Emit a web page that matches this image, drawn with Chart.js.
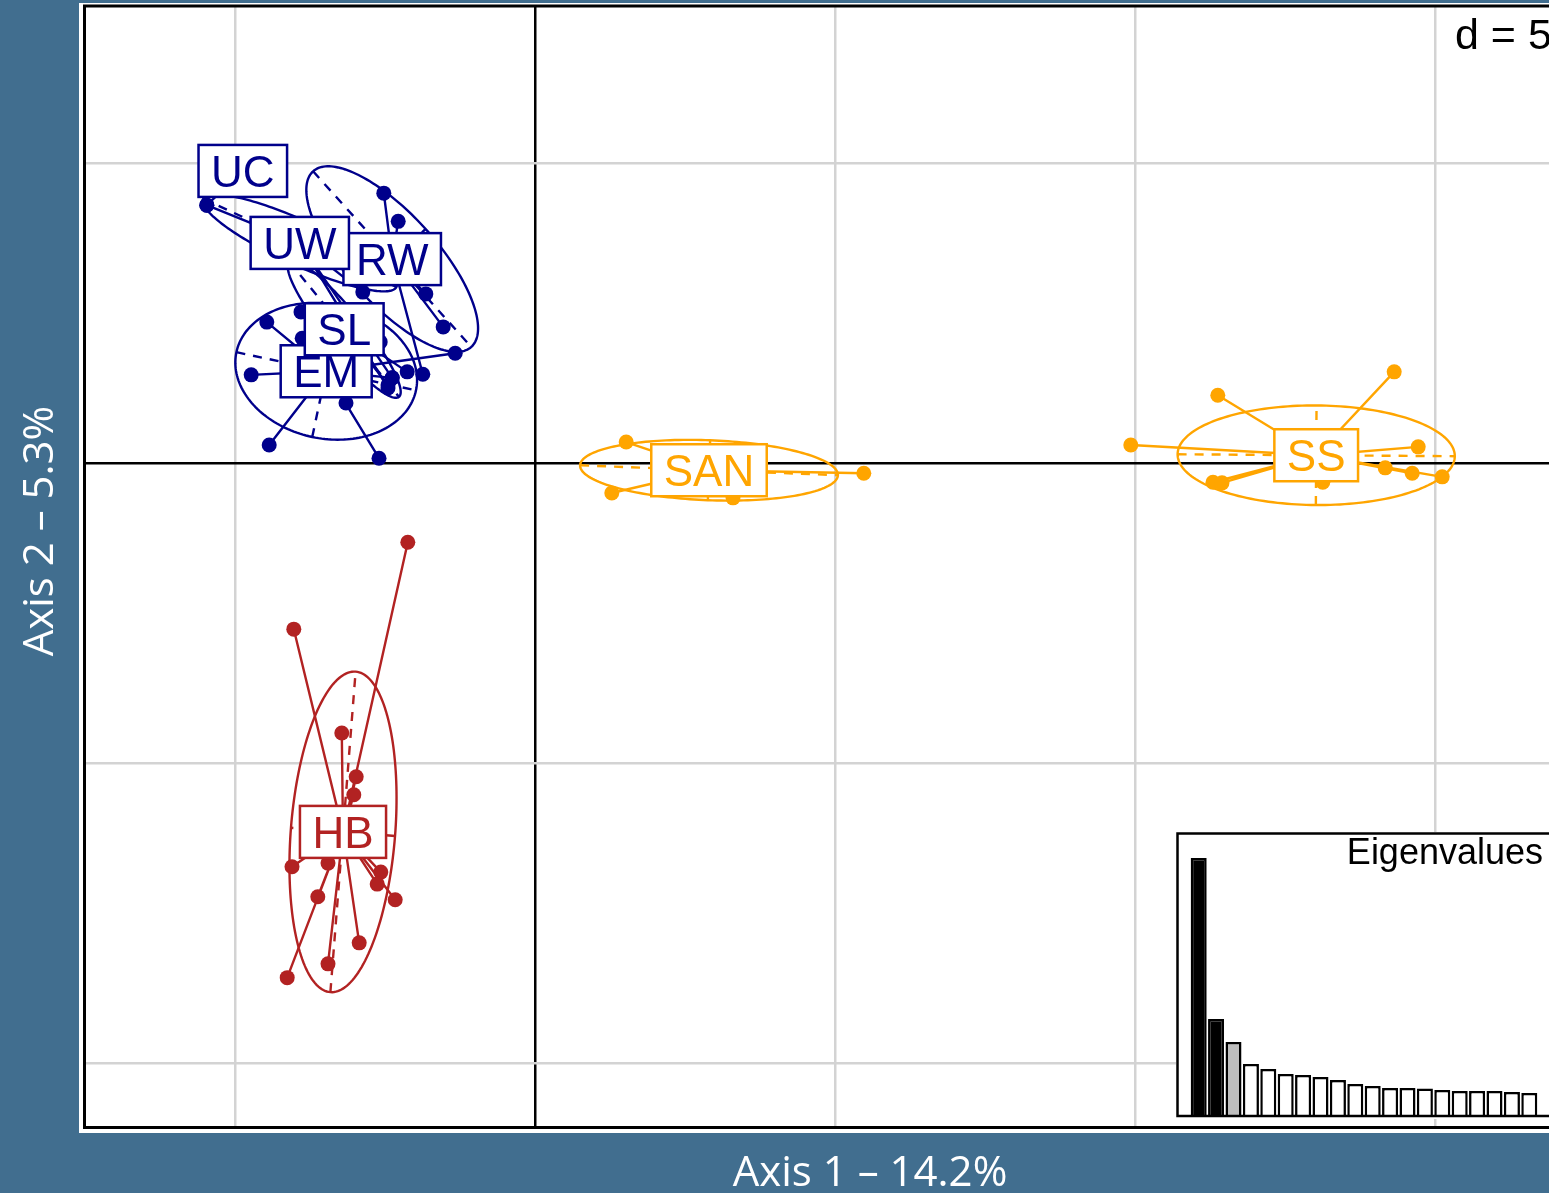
<!DOCTYPE html>
<html>
<head>
<meta charset="utf-8">
<script src="https://cdn.jsdelivr.net/npm/chart.js@4.4.1/dist/chart.umd.min.js"></script>
<style>
  html, body { margin: 0; padding: 0; overflow: hidden; background: #416e8f; }
  #wrap { position: relative; width: 1549px; height: 1193px; overflow: hidden; }
  #main { position: absolute; left: 0; top: 0; }
  #eig { position: absolute; left: 1176px; top: 832px; }
</style>
</head>
<body>
<div id="wrap">
  <canvas id="main" width="1549" height="1193"></canvas>
  <canvas id="eig" width="380" height="287"></canvas>
</div>
<script>
// ---- DAPC scores: discriminant axis 1 (x) and axis 2 (y) ----
const groupNames  = ['EM', 'HB', 'RW', 'SAN', 'SL', 'SS', 'UC', 'UW'];
const groupColors = ['#00008b', '#b22222', '#00008b', '#ffa500', '#00008b', '#ffa500', '#00008b', '#00008b'];

// group centroids
const centroidX = [-3.48, -3.20, -2.38, 2.90, -3.18, 13.02, -4.87, -3.92];
const centroidY = [ 1.53, -6.15,  3.40, -0.12, 2.23,  0.13,  4.87,  3.67];

// inertia ellipses: semi-axes and orientation (degrees)
const ellipseA     = [1.53, 2.68, 1.97, 2.15, 1.45, 2.31, 0.68, 1.77];
const ellipseB     = [1.12, 0.87, 0.75, 0.50, 0.30, 0.83, 0.24, 0.37];
const ellipseAngle = [-12, 85.5, -48, -2.2, -51, -0.4, -25, -24.5];

// individual scores per group
const ptsEM  = [[-4.73, 1.47], [-4.43, 0.30], [-2.60, 0.08], [-3.15, 1.00], [-1.33, 1.83], [-4.47, 2.35], [-2.38, 1.42]];
const ptsHB  = [[-2.12, -1.32], [-4.02, -2.77], [-3.22, -4.50], [-2.98, -5.23], [-3.02, -5.53], [-4.05, -6.73], [-3.45, -6.67],
                [-3.62, -7.23], [-2.57, -6.82], [-2.63, -7.02], [-2.33, -7.28], [-2.93, -8.00], [-3.45, -8.35], [-4.13, -8.58]];
const ptsRW  = [[-2.52, 4.50], [-2.28, 4.03], [-1.82, 2.82], [-1.53, 2.27], [-1.87, 1.48]];
const ptsSAN = [[1.52, 0.35], [1.28, -0.50], [3.30, -0.58], [5.48, -0.17]];
const ptsSL  = [[-3.90, 2.52], [-3.88, 2.08], [-2.58, 2.02], [-2.13, 1.52], [-2.45, 1.30]];
const ptsSS  = [[9.93, 0.30], [11.38, 1.13], [14.32, 1.52], [14.72, 0.27], [11.30, -0.32], [11.45, -0.33],
                [13.13, -0.32], [14.17, -0.08], [14.62, -0.17], [15.12, -0.23]];
const ptsUC  = [[-5.47, 4.30], [-5.15, 4.63], [-4.55, 5.05], [-4.42, 4.58]];
const ptsUW  = [[-5.47, 4.30], [-2.87, 2.85], [-2.45, 1.25], [-2.38, 1.42]];
const groupPoints = [ptsEM, ptsHB, ptsRW, ptsSAN, ptsSL, ptsSS, ptsUC, ptsUW];

// plotting window and grid spacing
const xRange = [-7.5, 16.9];
const yRange = [-11.07, 7.62];
const gridStep = 5;
const axisTitles = ['Axis 1 \u2013 14.2%', 'Axis 2 \u2013 5.3%'];
const gridLabel = 'd = 5';

// eigenvalues of the discriminant analysis (% of variance)
const eigenvalues = [14.2, 5.3, 4.03, 2.82, 2.54, 2.27, 2.21, 2.10, 1.93, 1.71,
                     1.60, 1.49, 1.49, 1.47, 1.38, 1.33, 1.33, 1.33, 1.27, 1.22];
const eigenRetained = 2;   // axes kept (black); the next one shown in grey

// ---- build datasets ----
const datasets = [];
groupNames.forEach((g, i) => {
  const c = { x: centroidX[i], y: centroidY[i] };
  const star = [];
  groupPoints[i].forEach(p => { star.push(c); star.push({ x: p[0], y: p[1] }); });
  datasets.push({
    label: g + ' star', data: star, showLine: true, pointRadius: 0,
    borderColor: groupColors[i], borderWidth: 2.4, tension: 0, order: 2
  });
  datasets.push({
    label: g, data: groupPoints[i].map(p => ({ x: p[0], y: p[1] })), showLine: false,
    pointRadius: 7.5, pointBackgroundColor: groupColors[i], pointBorderWidth: 0, order: 1
  });
});

const SANS = "'Liberation Sans', Arial, sans-serif";

const framePlugin = {
  id: 'frame',
  beforeDraw(chart) {
    const ctx = chart.ctx;
    ctx.save();
    ctx.fillStyle = '#416e8f';
    ctx.fillRect(0, 0, chart.width, chart.height);
    ctx.fillStyle = '#ffffff';
    ctx.fillRect(79, 3, chart.width - 79, 1130);
    ctx.restore();
  },
  beforeDatasetsDraw(chart) {
    // inertia ellipses with their dashed principal axes
    const ctx = chart.ctx, xs = chart.scales.x, ys = chart.scales.y;
    const px = (x, y) => [xs.getPixelForValue(x), ys.getPixelForValue(y)];
    ctx.save();
    groupNames.forEach((g, i) => {
      const cx = centroidX[i], cy = centroidY[i];
      const a = ellipseA[i], b = ellipseB[i], th = ellipseAngle[i] * Math.PI / 180;
      const ct = Math.cos(th), st = Math.sin(th);
      ctx.strokeStyle = groupColors[i];
      ctx.lineWidth = 2.4;
      ctx.setLineDash([]);
      ctx.beginPath();
      for (let k = 0; k <= 180; k++) {
        const t = k / 180 * 2 * Math.PI;
        const dx = a * Math.cos(t), dy = b * Math.sin(t);
        const p = px(cx + dx * ct - dy * st, cy + dx * st + dy * ct);
        if (k === 0) ctx.moveTo(p[0], p[1]); else ctx.lineTo(p[0], p[1]);
      }
      ctx.closePath();
      ctx.stroke();
      ctx.setLineDash([9, 8]);
      ctx.beginPath();
      let p1 = px(cx - a * ct, cy - a * st), p2 = px(cx + a * ct, cy + a * st);
      ctx.moveTo(p1[0], p1[1]); ctx.lineTo(p2[0], p2[1]);
      p1 = px(cx + b * st, cy - b * ct); p2 = px(cx - b * st, cy + b * ct);
      ctx.moveTo(p1[0], p1[1]); ctx.lineTo(p2[0], p2[1]);
      ctx.stroke();
    });
    ctx.restore();
  },
  afterDatasetsDraw(chart) {
    const ctx = chart.ctx, xs = chart.scales.x, ys = chart.scales.y;
    const area = chart.chartArea;
    ctx.save();
    // group labels in boxes at the centroids
    ctx.font = '44px ' + SANS;
    ctx.textAlign = 'center';
    ctx.textBaseline = 'alphabetic';
    groupNames.forEach((g, i) => {
      const x = xs.getPixelForValue(centroidX[i]);
      const y = ys.getPixelForValue(centroidY[i]);
      const w = ctx.measureText(g).width + 25, h = 52;
      ctx.fillStyle = '#ffffff';
      ctx.fillRect(x - w / 2, y - h / 2, w, h);
      ctx.strokeStyle = groupColors[i];
      ctx.lineWidth = 2.5;
      ctx.setLineDash([]);
      ctx.strokeRect(x - w / 2, y - h / 2, w, h);
      ctx.fillStyle = groupColors[i];
      ctx.fillText(g, x, y + 16);
    });
    // plot frame
    ctx.strokeStyle = '#000';
    ctx.lineWidth = 3;
    ctx.beginPath();
    ctx.moveTo(chart.width + 5, area.top);
    ctx.lineTo(area.left - 0.5, area.top);
    ctx.lineTo(area.left - 0.5, area.bottom + 0.5);
    ctx.lineTo(chart.width + 5, area.bottom + 0.5);
    ctx.stroke();
    // grid spacing label
    ctx.font = '43px ' + SANS;
    ctx.textAlign = 'left';
    ctx.fillStyle = '#000';
    ctx.fillText(gridLabel, 1455, 49);
    // axis titles
    ctx.fillStyle = '#ffffff';
    ctx.font = "42px 'Open Sans', sans-serif";
    ctx.textAlign = 'center';
    ctx.fillText(axisTitles[0], 870, 1186);
    ctx.translate(53, 531);
    ctx.rotate(-Math.PI / 2);
    ctx.fillText(axisTitles[1], 0, 0);
    ctx.restore();
  }
};

const gridColor = c => {
  const v = c.tick ? c.tick.value : NaN;
  if (Math.abs(v) < 1e-9) return '#000000';
  const r = v / gridStep;
  return Math.abs(r - Math.round(r)) < 1e-9 ? '#d3d3d3' : 'rgba(0,0,0,0)';
};

new Chart(document.getElementById('main'), {
  type: 'scatter',
  data: { datasets },
  options: {
    responsive: false,
    animation: false,
    layout: { autoPadding: false, padding: { left: 85, top: 6, right: 0, bottom: 66 } },
    plugins: { legend: { display: false }, tooltip: { enabled: false } },
    scales: {
      x: {
        type: 'linear', min: xRange[0], max: xRange[1],
        ticks: { display: false, stepSize: gridStep },
        grid: { color: gridColor, lineWidth: 2.5, drawTicks: false },
        border: { display: false }
      },
      y: {
        type: 'linear', min: yRange[0], max: yRange[1],
        ticks: { display: false, stepSize: gridStep },
        grid: { color: gridColor, lineWidth: 2.5, drawTicks: false },
        border: { display: false }
      }
    }
  },
  plugins: [framePlugin]
});

// ---- eigenvalue inset ----
const eigenColors = eigenvalues.map((v, i) => i < eigenRetained ? '#000000' : (i === eigenRetained ? '#bebebe' : '#ffffff'));

const insetPlugin = {
  id: 'inset',
  beforeDraw(chart) {
    const ctx = chart.ctx;
    ctx.save();
    ctx.fillStyle = '#ffffff';
    ctx.fillRect(0, 0, chart.width, chart.height);
    ctx.restore();
  },
  afterDraw(chart) {
    const ctx = chart.ctx;
    ctx.save();
    ctx.strokeStyle = '#000';
    ctx.lineWidth = 2.5;
    ctx.beginPath();
    ctx.moveTo(chart.width + 5, 1.5);
    ctx.lineTo(1.5, 1.5);
    ctx.lineTo(1.5, 284);
    ctx.lineTo(chart.width + 5, 284);
    ctx.stroke();
    ctx.fillStyle = '#000';
    ctx.font = '36px ' + SANS;
    ctx.textAlign = 'right';
    ctx.fillText('Eigenvalues', 367, 32);
    ctx.restore();
  }
};

new Chart(document.getElementById('eig'), {
  type: 'bar',
  data: {
    labels: eigenvalues.map((v, i) => String(i + 1)),
    datasets: [{
      data: eigenvalues,
      backgroundColor: eigenColors,
      borderColor: '#000000',
      borderWidth: 2.5,
      barPercentage: 0.92,
      categoryPercentage: 1
    }]
  },
  options: {
    responsive: false,
    animation: false,
    layout: { autoPadding: false, padding: { left: 14, top: 26, right: 18, bottom: 4 } },
    plugins: { legend: { display: false }, tooltip: { enabled: false } },
    scales: {
      x: { display: false },
      y: { display: false, min: 0, max: eigenvalues[0] }
    }
  },
  plugins: [insetPlugin]
});
</script>
</body>
</html>
